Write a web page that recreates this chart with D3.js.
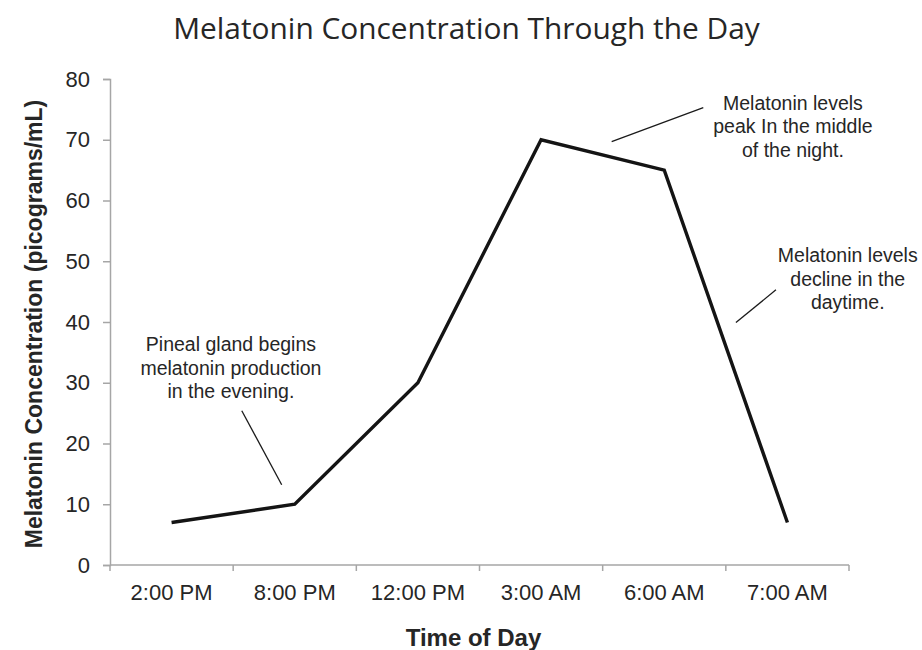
<!DOCTYPE html>
<html>
<head>
<meta charset="utf-8">
<script src="https://cdn.jsdelivr.net/npm/d3@7"></script>
<style>
  html, body { margin: 0; padding: 0; background: #fff; }
  svg { display: block; }
</style>
</head>
<body>
<svg id="chart" width="922" height="650"></svg>
<script>
// ---- data ----
const categories = ["2:00 PM", "8:00 PM", "12:00 PM", "3:00 AM", "6:00 AM", "7:00 AM"];
const concentration = [7, 10, 30, 70, 65, 7];
const yTicks = [0, 10, 20, 30, 40, 50, 60, 70, 80];

const titleText = "Melatonin Concentration Through the Day";
const yAxisTitle = "Melatonin Concentration (picograms/mL)";
const xAxisTitle = "Time of Day";

// annotation texts and anchor points, in data space (category index, value)
const noteTexts = [
  ["Pineal gland begins", "melatonin production", "in the evening."],
  ["Melatonin levels", "peak In the middle", "of the night."],
  ["Melatonin levels", "decline in the", "daytime."]
];
const noteAnchors = [[0.482, 35.2], [5.045, 74.9], [5.49, 49.8]];
const noteLeaders = [
  [[0.57, 25.4], [0.894, 13.2]],
  [[4.317, 75.3], [3.573, 69.7]],
  [[4.907, 45.3], [4.582, 39.9]]
];

// ---- layout ----
const svg = d3.select("#chart");
const mLeft = 110, mRight = 849, mTop = 79, mBottom = 565;

const x = d3.scaleBand().domain(categories).range([mLeft, mRight]).padding(0);
const y = d3.scaleLinear().domain([0, 80]).range([mBottom, mTop]);
const xi = d3.scaleLinear().domain([-0.5, categories.length - 0.5]).range([mLeft, mRight]);

const axisColor = "#a6a6a6";
const textColor = "#262626";

// y axis
const yAxis = svg.append("g").attr("transform", `translate(${mLeft},0)`)
  .call(d3.axisLeft(y).tickValues(yTicks).tickSize(7).tickPadding(13).tickFormat(d3.format("d")));
yAxis.select(".domain").attr("stroke", axisColor).attr("stroke-width", 1.5);
yAxis.selectAll(".tick line").attr("stroke", axisColor).attr("stroke-width", 1.5);
yAxis.selectAll(".tick text")
  .attr("font-family", "'Liberation Sans', Arial, sans-serif")
  .attr("font-size", 22).attr("fill", textColor);

// x axis: ticks at band boundaries
const xAxisG = svg.append("g").attr("transform", `translate(0,${mBottom})`);
xAxisG.append("line").attr("x1", mLeft).attr("x2", mRight).attr("y1", 0).attr("y2", 0)
  .attr("stroke", axisColor).attr("stroke-width", 1.5);
const boundaries = categories.map(c => x(c)).concat([x(categories[categories.length - 1]) + x.bandwidth()]);
xAxisG.selectAll("line.tk").data(boundaries).join("line").attr("class", "tk")
  .attr("x1", d => d).attr("x2", d => d).attr("y1", 0).attr("y2", 6)
  .attr("stroke", axisColor).attr("stroke-width", 1.5);
xAxisG.selectAll("text.lbl").data(categories).join("text").attr("class", "lbl")
  .attr("x", d => x(d) + x.bandwidth() / 2).attr("y", 35)
  .attr("text-anchor", "middle")
  .attr("font-family", "'Liberation Sans', Arial, sans-serif")
  .attr("font-size", 22).attr("fill", textColor)
  .text(d => d);

// line
const line = d3.line()
  .x((d, i) => x(categories[i]) + x.bandwidth() / 2)
  .y(d => y(d));
svg.append("path").datum(concentration)
  .attr("d", line).attr("fill", "none")
  .attr("stroke", "#141414").attr("stroke-width", 3.4)
  .attr("stroke-linejoin", "miter");

// annotations
noteTexts.forEach((lines, k) => {
  const [ai, av] = noteAnchors[k];
  const t = svg.append("text")
    .attr("x", xi(ai)).attr("y", y(av))
    .attr("text-anchor", "middle")
    .attr("font-family", "'Liberation Sans', Arial, sans-serif")
    .attr("font-size", 19.5).attr("fill", textColor);
  lines.forEach((s, j) => {
    t.append("tspan").attr("x", xi(ai)).attr("dy", j === 0 ? 0 : 23.5).text(s);
  });
  const [[i1, v1], [i2, v2]] = noteLeaders[k];
  svg.append("line")
    .attr("x1", xi(i1)).attr("y1", y(v1)).attr("x2", xi(i2)).attr("y2", y(v2))
    .attr("stroke", "#1a1a1a").attr("stroke-width", 1.3);
});

// chart title
const title = svg.append("text")
  .attr("x", 466.5).attr("y", 39)
  .attr("text-anchor", "middle")
  .attr("font-family", "'Open Sans', 'Noto Sans', sans-serif")
  .attr("font-size", 30).attr("fill", textColor)
  .text(titleText);
const tw = title.node().getComputedTextLength();
title.attr("font-size", 30 * 587 / tw);

// axis titles
svg.append("text")
  .attr("transform", `translate(42,${(mTop + mBottom) / 2 + 2}) rotate(-90)`)
  .attr("text-anchor", "middle")
  .attr("font-family", "'Liberation Sans', Arial, sans-serif")
  .attr("font-weight", "bold").attr("font-size", 23).attr("fill", textColor)
  .text(yAxisTitle);

svg.append("text")
  .attr("x", 473.5).attr("y", 646)
  .attr("text-anchor", "middle")
  .attr("font-family", "'Liberation Sans', Arial, sans-serif")
  .attr("font-weight", "bold").attr("font-size", 24).attr("fill", textColor)
  .text(xAxisTitle);
</script>
</body>
</html>
